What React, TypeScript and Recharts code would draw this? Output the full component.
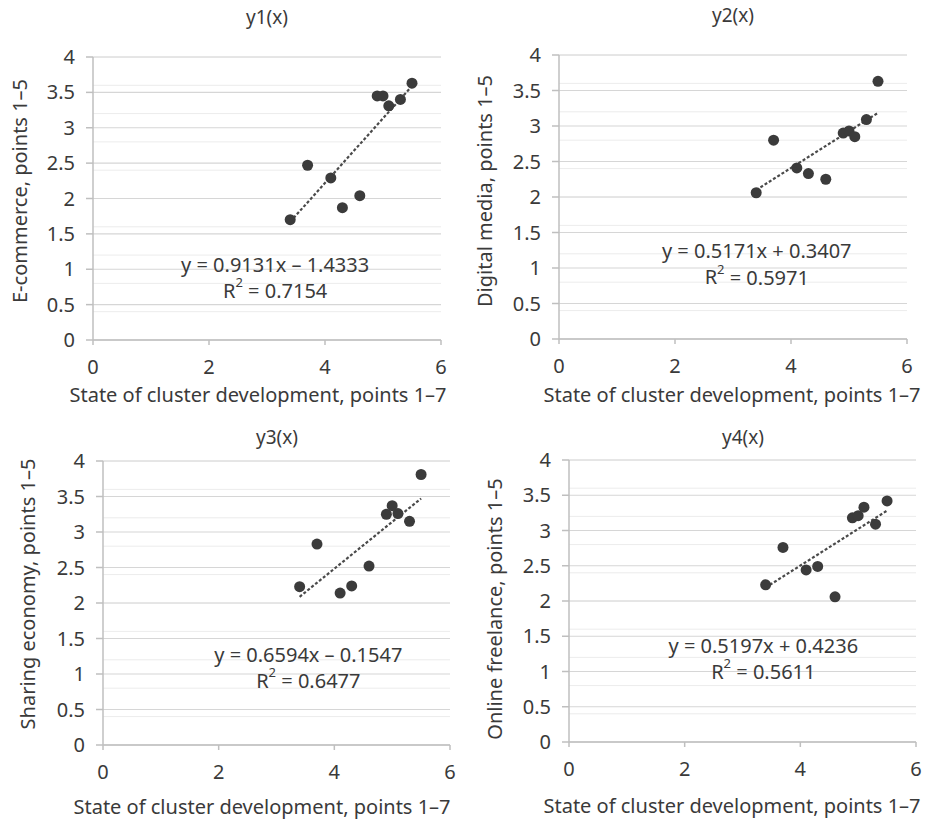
import { CartesianGrid, ReferenceDot, ReferenceLine, Scatter, ScatterChart, XAxis, YAxis } from "recharts";

const X_VALUES = [3.4, 3.7, 4.1, 4.3, 4.6, 4.9, 5.0, 5.1, 5.3, 5.5];
const Y1_VALUES = [1.7, 2.47, 2.29, 1.87, 2.04, 3.45, 3.45, 3.31, 3.4, 3.63];
const Y2_VALUES = [2.06, 2.8, 2.41, 2.33, 2.25, 2.9, 2.93, 2.85, 3.09, 3.63];
const Y3_VALUES = [2.23, 2.83, 2.14, 2.24, 2.52, 3.25, 3.37, 3.26, 3.15, 3.81];
const Y4_VALUES = [2.23, 2.76, 2.44, 2.49, 2.06, 3.18, 3.21, 3.33, 3.09, 3.42];

const TITLES = ["y1(x)", "y2(x)", "y3(x)", "y4(x)"];
const Y_LABELS = ["E-commerce, points 1–5", "Digital media, points 1–5", "Sharing economy, points 1–5", "Online freelance, points 1–5"];
const X_LABEL = "State of cluster development, points 1–7";

const SLOPES = [0.9131, 0.5171, 0.6594, 0.5197];
const INTERCEPTS = [-1.4333, 0.3407, -0.1547, 0.4236];
const EQUATIONS = ["y = 0.9131x – 1.4333", "y = 0.5171x + 0.3407", "y = 0.6594x – 0.1547", "y = 0.5197x + 0.4236"];
const R_SQUARED = ["0.7154", "0.5971", "0.6477", "0.5611"];
// where the equation text sits, in data units
const EQ_X = [3.14, 3.41, 3.55, 3.36];
const EQ_Y = [1.07, 1.24, 1.28, 1.37];

const X_TICKS = [0, 2, 4, 6];
const Y_TICKS = [0, 0.5, 1, 1.5, 2, 2.5, 3, 3.5, 4];
const MINOR_Y = Array.from({ length: 41 }, (_, i) => Math.round(i * 10) / 100);

const SERIES = [Y1_VALUES, Y2_VALUES, Y3_VALUES, Y4_VALUES];

const FONT = "'Noto Sans', sans-serif";
const TEXT = "#3a3a3a";

// layout of each panel on the page
const PANELS = [
  { left: 0, top: 0, w: 460, h: 410, mTop: 57, mRight: 19, yW: 93, xH: 70, title: [267, 17], yLab: [20, 191], xLab: [258, 395] },
  { left: 460, top: 0, w: 467, h: 410, mTop: 55, mRight: 20, yW: 99, xH: 71, title: [733, 15], yLab: [485, 191], xLab: [732, 395] },
  { left: 0, top: 400, w: 460, h: 419, mTop: 61, mRight: 10, yW: 103, xH: 74, title: [277, 437], yLab: [28, 594], xLab: [262, 807] },
  { left: 460, top: 400, w: 467, h: 419, mTop: 60, mRight: 11, yW: 109, xH: 77, title: [743, 437], yLab: [495, 609], xLab: [732, 806] },
];

function Dot(props: { cx?: number; cy?: number }) {
  if (props.cx == null || props.cy == null) return null;
  return <circle cx={props.cx} cy={props.cy} r={5.5} fill="#3b3b3b" />;
}

function Equation({ cx, cy, eq, r2 }: { cx?: number; cy?: number; eq: string; r2: string }) {
  if (cx == null || cy == null) return null;
  return (
    <g fontFamily={FONT} fontSize={20} fill={TEXT}>
      <text x={cx} y={cy} textAnchor="middle" dominantBaseline="central">
        {eq}
      </text>
      <text x={cx} y={cy + 26} textAnchor="middle" dominantBaseline="central">
        R<tspan fontSize={13} dy={-8}>2</tspan>
        <tspan dy={8}> = {r2}</tspan>
      </text>
    </g>
  );
}

function Panel({ idx }: { idx: number }) {
  const p = PANELS[idx];
  const data = X_VALUES.map((x, i) => ({ x, y: SERIES[idx][i] }));
  const x0 = X_VALUES[0];
  const x1 = X_VALUES[X_VALUES.length - 1];
  const tick = { fill: TEXT, fontSize: 20, fontFamily: FONT };
  return (
    <div style={{ position: "absolute", left: p.left, top: p.top, width: p.w, height: p.h }}>
      <ScatterChart width={p.w} height={p.h} margin={{ top: p.mTop, right: p.mRight, bottom: 0, left: 0 }}>
        <CartesianGrid horizontalValues={MINOR_Y} vertical={false} stroke="#ececec" strokeWidth={1} />
        <CartesianGrid vertical={false} stroke="#d6d6d6" strokeWidth={1.2} />
        <XAxis
          type="number"
          dataKey="x"
          domain={[0, 6]}
          ticks={X_TICKS}
          height={p.xH}
          tick={tick}
          tickSize={5}
          tickMargin={15}
          axisLine={{ stroke: "#bfbfbf", strokeWidth: 1.5 }}
          tickLine={{ stroke: "#bfbfbf", strokeWidth: 1.5 }}
        />
        <YAxis
          type="number"
          dataKey="y"
          domain={[0, 4]}
          ticks={Y_TICKS}
          width={p.yW}
          tick={tick}
          tickSize={7}
          tickMargin={11}
          axisLine={{ stroke: "#bfbfbf", strokeWidth: 1.5 }}
          tickLine={{ stroke: "#bfbfbf", strokeWidth: 1.5 }}
        />
        <ReferenceLine
          segment={[
            { x: x0, y: SLOPES[idx] * x0 + INTERCEPTS[idx] },
            { x: x1, y: SLOPES[idx] * x1 + INTERCEPTS[idx] },
          ]}
          stroke="#4a4a4a"
          strokeWidth={2.2}
          strokeDasharray="3 2"
        />
        <Scatter data={data} shape={<Dot />} isAnimationActive={false} />
        <ReferenceDot
          x={EQ_X[idx]}
          y={EQ_Y[idx]}
          r={0}
          shape={(s: any) => <Equation cx={s.cx} cy={s.cy} eq={EQUATIONS[idx]} r2={R_SQUARED[idx]} />}
        />
      </ScatterChart>
    </div>
  );
}

function Caption({ x, y, text, size, rotate }: { x: number; y: number; text: string; size: number; rotate?: boolean }) {
  return (
    <div
      style={{
        position: "absolute",
        left: x,
        top: y,
        transform: `translate(-50%, -50%)${rotate ? " rotate(-90deg)" : ""}`,
        whiteSpace: "nowrap",
        fontFamily: FONT,
        fontSize: size,
        color: TEXT,
        lineHeight: 1,
      }}
    >
      {text}
    </div>
  );
}

export default function App() {
  return (
    <div style={{ position: "absolute", left: 0, top: 0, width: 927, height: 819, background: "#ffffff", overflow: "hidden" }}>
      {PANELS.map((p, i) => (
        <Panel key={i} idx={i} />
      ))}
      {PANELS.map((p, i) => (
        <div key={"c" + i}>
          <Caption x={p.title[0]} y={p.title[1]} text={TITLES[i]} size={19} />
          <Caption x={p.yLab[0]} y={p.yLab[1]} text={Y_LABELS[i]} size={20} rotate />
          <Caption x={p.xLab[0]} y={p.xLab[1]} text={X_LABEL} size={20} />
        </div>
      ))}
    </div>
  );
}
